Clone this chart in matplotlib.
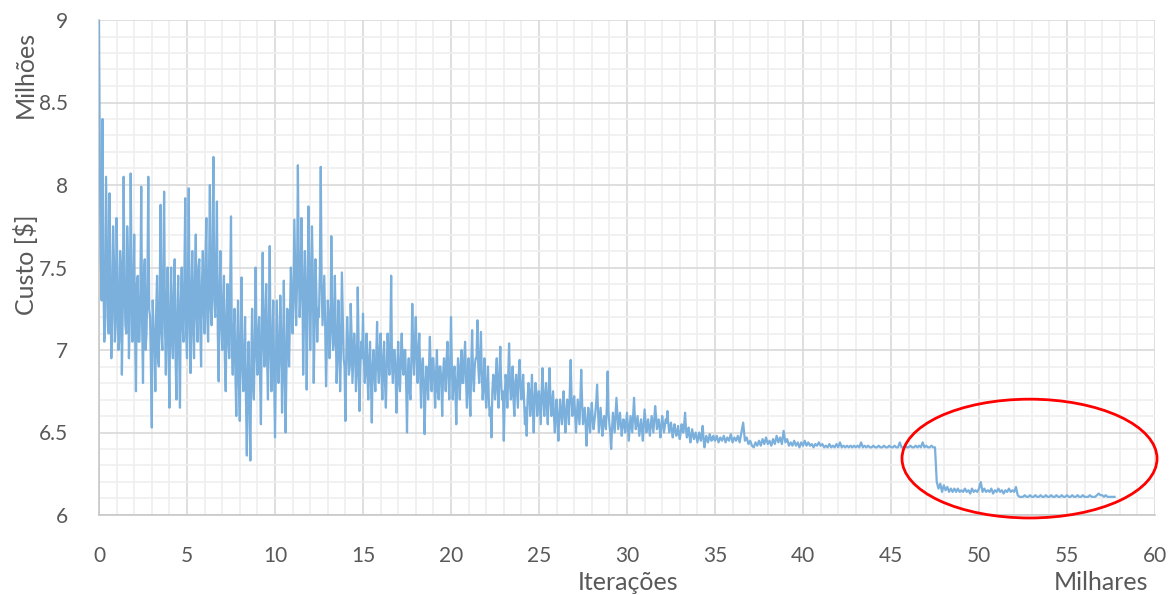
import numpy as np
import matplotlib
matplotlib.use("Agg")
import matplotlib.pyplot as plt
from matplotlib.patches import Ellipse
from matplotlib.ticker import MultipleLocator

plt.rcParams['font.family'] = ['Lato', 'DejaVu Sans']

# custo (milhoes de $) a cada 100 iteracoes, blocos de 5 mil iteracoes
custo_00 = [9.00, 7.55, 8.40, 7.05, 8.05, 7.20, 7.95, 6.95, 7.75, 7.05,
            7.80, 7.00, 7.60, 6.85, 8.05, 7.15, 7.75, 6.95, 8.07, 7.05,
            7.70, 6.75, 7.45, 7.05, 7.99, 6.80, 7.55, 7.10, 8.05, 7.20,
            6.53, 7.15, 6.75, 7.45, 6.90, 7.88, 7.00, 7.96, 6.85, 7.50,
            6.65, 7.50, 6.95, 7.55, 6.70, 7.45, 6.65, 7.50, 7.05, 7.92]
custo_05 = [6.95, 7.98, 6.86, 7.60, 6.95, 7.70, 7.05, 7.55, 6.90, 7.60,
            7.10, 7.80, 7.05, 8.00, 7.15, 8.17, 7.20, 7.90, 6.81, 7.60,
            7.00, 7.45, 6.75, 7.40, 6.95, 7.81, 6.85, 7.25, 6.60, 7.30,
            6.57, 7.44, 6.75, 7.20, 6.36, 7.05, 6.33, 7.25, 6.70, 7.50,
            6.85, 7.20, 6.55, 7.59, 6.90, 7.40, 6.70, 7.63, 6.75, 7.30]
custo_10 = [6.47, 7.30, 6.80, 7.33, 6.62, 7.42, 6.50, 7.25, 6.90, 7.50,
            7.10, 7.79, 7.15, 8.12, 7.20, 7.80, 6.85, 7.60, 6.76, 7.87,
            7.00, 7.75, 6.80, 7.55, 7.05, 7.20, 8.11, 7.15, 7.45, 6.78,
            7.30, 6.95, 7.69, 7.00, 7.45, 6.80, 7.30, 6.75, 7.47, 6.95,
            6.57, 7.20, 6.85, 7.28, 6.80, 7.10, 6.75, 7.38, 6.63, 7.05]
custo_15 = [7.22, 6.80, 7.10, 6.70, 7.05, 6.56, 7.00, 6.75, 7.17, 6.80,
            7.10, 6.70, 7.05, 6.65, 7.10, 6.85, 7.45, 6.80, 7.00, 6.62,
            7.05, 6.75, 7.10, 6.85, 7.00, 6.50, 6.95, 6.70, 7.28, 6.85,
            7.20, 6.80, 7.10, 6.65, 6.95, 6.49, 6.90, 6.70, 7.08, 6.75,
            6.95, 6.65, 7.00, 6.70, 6.90, 6.60, 6.95, 6.75, 7.05, 6.70]
custo_20 = [7.20, 6.70, 6.90, 6.55, 6.95, 6.70, 7.00, 6.80, 7.05, 6.65,
            6.95, 6.60, 7.12, 6.75, 6.95, 7.18, 6.80, 7.11, 6.70, 6.95,
            6.65, 6.90, 6.60, 6.47, 6.85, 6.70, 6.95, 6.65, 7.02, 6.70,
            6.45, 6.85, 6.65, 7.04, 6.70, 6.90, 6.60, 6.85, 6.65, 6.94,
            6.70, 6.85, 6.55, 6.48, 6.80, 6.60, 6.85, 6.50, 6.80, 6.60]
custo_25 = [6.75, 6.55, 6.89, 6.60, 6.80, 6.55, 6.89, 6.60, 6.75, 6.50,
            6.70, 6.45, 6.70, 6.55, 6.75, 6.50, 6.70, 6.55, 6.94, 6.60,
            6.72, 6.50, 6.70, 6.55, 6.88, 6.55, 6.65, 6.42, 6.65, 6.50,
            6.68, 6.52, 6.62, 6.79, 6.50, 6.65, 6.48, 6.60, 6.52, 6.87,
            6.55, 6.40, 6.62, 6.50, 6.71, 6.52, 6.62, 6.48, 6.58, 6.50]
custo_30 = [6.62, 6.45, 6.60, 6.50, 6.71, 6.52, 6.60, 6.48, 6.58, 6.45,
            6.64, 6.50, 6.58, 6.48, 6.60, 6.50, 6.66, 6.52, 6.58, 6.47,
            6.60, 6.50, 6.58, 6.63, 6.50, 6.56, 6.47, 6.55, 6.48, 6.54,
            6.46, 6.55, 6.50, 6.62, 6.47, 6.53, 6.44, 6.52, 6.46, 6.50,
            6.44, 6.50, 6.45, 6.54, 6.41, 6.48, 6.44, 6.49, 6.45, 6.48]
custo_35 = [6.45, 6.48, 6.44, 6.47, 6.45, 6.48, 6.44, 6.47, 6.45, 6.49,
            6.44, 6.47, 6.45, 6.48, 6.44, 6.50, 6.56, 6.45, 6.47, 6.43,
            6.45, 6.42, 6.41, 6.44, 6.42, 6.45, 6.42, 6.46, 6.43, 6.47,
            6.43, 6.45, 6.42, 6.46, 6.43, 6.48, 6.44, 6.47, 6.43, 6.51,
            6.44, 6.46, 6.42, 6.44, 6.42, 6.45, 6.42, 6.44, 6.41, 6.44]
custo_40 = [6.42, 6.45, 6.42, 6.44, 6.42, 6.43, 6.41, 6.43, 6.42, 6.44,
            6.42, 6.43, 6.41, 6.42, 6.41, 6.43, 6.41, 6.42, 6.41, 6.43,
            6.41, 6.44, 6.41, 6.42, 6.41, 6.42, 6.41, 6.42, 6.41, 6.42,
            6.41, 6.42, 6.41, 6.44, 6.41, 6.42, 6.41, 6.42, 6.41, 6.41,
            6.42, 6.41, 6.41, 6.42, 6.41, 6.41, 6.42, 6.41, 6.41, 6.42]
custo_45 = [6.41, 6.41, 6.42, 6.41, 6.41, 6.44, 6.41, 6.41, 6.42, 6.41,
            6.41, 6.42, 6.41, 6.41, 6.42, 6.41, 6.42, 6.41, 6.44, 6.41,
            6.42, 6.41, 6.41, 6.42, 6.41, 6.41, 6.20, 6.16, 6.19, 6.14,
            6.18, 6.15, 6.17, 6.14, 6.16, 6.14, 6.16, 6.14, 6.16, 6.14,
            6.15, 6.14, 6.16, 6.14, 6.15, 6.13, 6.16, 6.14, 6.15, 6.14]
custo_50 = [6.16, 6.20, 6.14, 6.16, 6.14, 6.15, 6.14, 6.16, 6.13, 6.15,
            6.14, 6.16, 6.14, 6.15, 6.13, 6.15, 6.14, 6.16, 6.14, 6.15,
            6.14, 6.17, 6.12, 6.11, 6.11, 6.11, 6.12, 6.11, 6.11, 6.12,
            6.11, 6.11, 6.12, 6.11, 6.11, 6.12, 6.11, 6.11, 6.12, 6.11,
            6.11, 6.12, 6.11, 6.11, 6.12, 6.11, 6.11, 6.12, 6.11, 6.11]
custo_55 = [6.12, 6.11, 6.11, 6.12, 6.11, 6.11, 6.12, 6.11, 6.11, 6.12,
            6.11, 6.11, 6.11, 6.12, 6.11, 6.11, 6.11, 6.12, 6.13, 6.12,
            6.12, 6.11, 6.12, 6.11, 6.11, 6.11, 6.11, 6.11]

# amostras intermediarias (50 iteracoes depois) na fase ruidosa, ate 35 mil
meio_00 = [8.10, 7.30, 7.45, 7.15, 7.60, 7.10, 7.40, 7.20, 7.55, 7.15,
           7.45, 7.05, 7.50, 7.25, 7.40, 7.10, 7.55, 7.20, 7.45, 7.30,
           7.10, 7.40, 7.05, 7.35, 7.15, 7.45, 7.00, 7.40, 7.25, 6.90,
           7.30, 7.05, 7.25, 6.95, 7.35, 7.10, 7.45, 7.15, 7.30, 7.00,
           7.25, 7.05, 7.35, 6.95, 7.20, 7.00, 7.30, 7.15, 7.45, 7.10]
meio_05 = [7.40, 7.15, 7.35, 7.10, 7.45, 7.20, 7.50, 7.15, 7.40, 7.25,
           7.55, 7.20, 7.45, 7.25, 7.60, 7.30, 7.50, 7.10, 7.35, 7.15,
           7.30, 6.95, 7.20, 7.05, 7.35, 7.00, 7.10, 6.85, 7.05, 6.80,
           7.10, 6.90, 6.95, 6.70, 6.85, 6.65, 6.90, 6.80, 7.05, 7.00,
           7.10, 6.85, 7.15, 7.05, 7.20, 6.95, 7.15, 7.00, 7.05, 6.85]
meio_10 = [6.90, 7.05, 6.95, 7.10, 6.85, 7.00, 6.90, 7.10, 7.20, 7.35,
           7.30, 7.45, 7.40, 7.55, 7.35, 7.50, 7.20, 7.35, 7.25, 7.50,
           7.30, 7.45, 7.15, 7.35, 7.25, 7.50, 7.40, 7.30, 7.15, 7.05,
           7.20, 7.10, 7.25, 7.05, 7.15, 6.95, 7.10, 7.00, 7.20, 6.90,
           6.95, 7.05, 6.90, 7.10, 6.95, 7.00, 6.85, 7.05, 6.90, 6.95]
meio_15 = [6.95, 6.90, 6.85, 6.95, 6.80, 6.90, 6.85, 6.95, 6.90, 7.00,
           6.85, 6.95, 6.80, 6.90, 6.95, 7.05, 6.90, 7.00, 6.85, 6.90,
           6.80, 6.95, 6.90, 7.00, 6.80, 6.85, 6.75, 6.95, 7.00, 7.05,
           6.95, 7.00, 6.85, 6.90, 6.80, 6.75, 6.85, 6.90, 6.85, 6.95,
           6.80, 6.85, 6.75, 6.90, 6.80, 6.85, 6.90, 6.95, 6.85, 6.90]
meio_20 = [6.90, 6.85, 6.75, 6.80, 6.85, 6.90, 6.80, 6.95, 6.85, 6.80,
           6.75, 6.90, 6.85, 6.90, 6.95, 6.90, 6.95, 6.85, 6.80, 6.75,
           6.80, 6.70, 6.65, 6.75, 6.80, 6.85, 6.75, 6.85, 6.80, 6.75,
           6.70, 6.80, 6.85, 6.80, 6.75, 6.70, 6.80, 6.75, 6.85, 6.80,
           6.75, 6.70, 6.65, 6.70, 6.75, 6.70, 6.65, 6.70, 6.75, 6.70]
meio_25 = [6.65, 6.75, 6.70, 6.72, 6.65, 6.75, 6.70, 6.68, 6.60, 6.62,
           6.58, 6.60, 6.62, 6.65, 6.60, 6.62, 6.65, 6.75, 6.70, 6.68,
           6.62, 6.60, 6.62, 6.70, 6.68, 6.60, 6.55, 6.55, 6.58, 6.60,
           6.58, 6.57, 6.68, 6.65, 6.58, 6.57, 6.55, 6.57, 6.65, 6.62,
           6.50, 6.52, 6.56, 6.60, 6.62, 6.57, 6.55, 6.54, 6.55, 6.56]
meio_30 = [6.54, 6.53, 6.55, 6.60, 6.58, 6.56, 6.54, 6.53, 6.52, 6.55,
           6.57, 6.55, 6.53, 6.54, 6.55, 6.58, 6.60, 6.55, 6.53, 6.54,
           6.55, 6.54, 6.56, 6.55, 6.53, 6.51, 6.52, 6.51, 6.50, 6.49,
           6.50, 6.52, 6.55, 6.52, 6.49, 6.48, 6.48, 6.49, 6.48, 6.47,
           6.47, 6.47, 6.49, 6.46, 6.45, 6.46, 6.46, 6.47, 6.46, 6.46]

passo = 0.1  # milhares de iteracoes entre amostras

custo_p = np.concatenate([custo_00, custo_05, custo_10, custo_15, custo_20, custo_25,
                          custo_30, custo_35, custo_40, custo_45, custo_50, custo_55])
iter_p = np.arange(len(custo_p)) * passo
custo_m = np.concatenate([meio_00, meio_05, meio_10, meio_15, meio_20, meio_25, meio_30])
iter_m = np.arange(len(custo_m)) * passo + passo / 2

# junta as duas amostragens em ordem de iteracao
iteracoes = np.concatenate([iter_p, iter_m])
custo = np.concatenate([custo_p, custo_m])
ordem = np.argsort(iteracoes, kind='stable')
iteracoes, custo = iteracoes[ordem], custo[ordem]

x_ticks = [0, 5, 10, 15, 20, 25, 30, 35, 40, 45, 50, 55, 60]
y_ticks = [6, 6.5, 7, 7.5, 8, 8.5, 9]
y_tick_labels = ['6', '6.5', '7', '7.5', '8', '8.5', '9']

cinza = '#595959'

fig = plt.figure(figsize=(11.69, 5.95), dpi=100)
ax = fig.add_axes([99 / 1169, 1 - 515 / 595, 1056 / 1169, 495 / 595])

ax.plot(iteracoes, custo, color='#7bb0dc', lw=1.6, zorder=3)

ax.set_xlim(0, 60)
ax.set_ylim(6, 9)
ax.set_xticks(x_ticks)
ax.set_yticks(y_ticks)
ax.set_yticklabels(y_tick_labels)
ax.xaxis.set_minor_locator(MultipleLocator(1))
ax.yaxis.set_minor_locator(MultipleLocator(0.1))
ax.grid(which='minor', color='#efefef', lw=1.2)
ax.grid(which='major', color='#d9d9d9', lw=1.2)
ax.set_axisbelow(True)
ax.tick_params(which='both', length=0, labelsize=15, colors=cinza)
ax.tick_params(axis='x', pad=22)
ax.tick_params(axis='y', pad=22)
for lado in ['top', 'right']:
    ax.spines[lado].set_visible(False)
for lado in ['left', 'bottom']:
    ax.spines[lado].set_color('#c8c8c8')
    ax.spines[lado].set_linewidth(1.2)

# destaque da fase final
ax.add_patch(Ellipse((52.87, 6.342), 14.49, 0.72, fill=False, edgecolor='red',
                     lw=2, clip_on=False, zorder=5))

fig.text(25 / 1169, 1 - 265 / 595, 'Custo [\\$]', rotation=90, ha='center', va='center',
         fontsize=18, color=cinza)
fig.text(25 / 1169, 1 - 74 / 595, 'Milhões', rotation=90, ha='center', va='center',
         fontsize=18, color=cinza)
fig.text(628 / 1169, 1 - 583 / 595, 'Iterações', ha='center', va='center',
         fontsize=18, color=cinza)
fig.text(1101 / 1169, 1 - 583 / 595, 'Milhares', ha='center', va='center',
         fontsize=18, color=cinza)

fig.savefig('out.png', dpi=100)
